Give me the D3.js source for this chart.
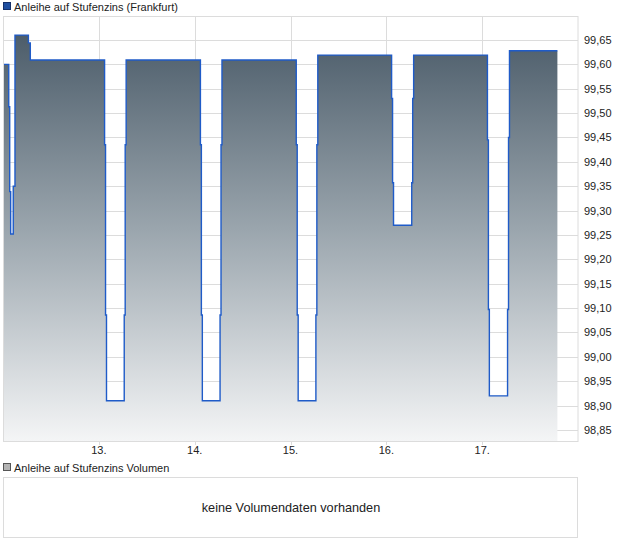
<!DOCTYPE html>
<html>
<head>
<meta charset="utf-8">
<script src="https://cdn.jsdelivr.net/npm/d3@7.9.0/dist/d3.min.js"></script>
<style>
  body { margin: 0; background: #fff; }
  text { font-family: "Liberation Sans", Arial, sans-serif; }
</style>
</head>
<body>
<svg id="chart" width="620" height="546"></svg>
<script>
// price data (fractional day of month, price)
const times = [12.01, 12.06, 12.07, 12.08, 12.107, 12.125, 12.265, 12.285,
  13.06, 13.07, 13.08, 13.265, 13.275, 13.285,
  14.06, 14.07, 14.08, 14.265, 14.275, 14.285,
  15.06, 15.07, 15.08, 15.265, 15.275, 15.285,
  16.055, 16.065, 16.075, 16.265, 16.275, 16.285,
  17.055, 17.065, 17.075, 17.265, 17.275, 17.285, 17.785];
const prices = [99.60, 99.513, 99.339, 99.252, 99.35, 99.66, 99.644, 99.609,
  99.435, 99.086, 98.91, 99.086, 99.435, 99.609,
  99.435, 99.086, 98.91, 99.086, 99.435, 99.609,
  99.435, 99.086, 98.91, 99.086, 99.435, 99.619,
  99.53, 99.357, 99.27, 99.357, 99.53, 99.619,
  99.445, 99.097, 98.92, 99.097, 99.45, 99.628, 99.628];
const dayTicks = [13, 14, 15, 16, 17];
const dayLabels = ['13.', '14.', '15.', '16.', '17.'];
const priceTicks = d3.range(0, 17).map(i => +(98.85 + i * 0.05).toFixed(2));

const data = times.map((t, i) => ({ t: t, v: prices[i] }));

const svg = d3.select('#chart');
const pLeft = 3, pRight = 578, pTop = 16, pBottom = 441;

let x = d3.scaleLinear().domain([12, 18]).range([pLeft, pRight]);
let y = d3.scaleLinear().domain([98.8274, 99.6992]).range([pBottom, pTop]);

// gradient for the area
const defs = svg.append('defs');
const grad = defs.append('linearGradient')
  .attr('id', 'fillGrad')
  .attr('gradientUnits', 'userSpaceOnUse')
  .attr('x1', 0).attr('y1', pTop).attr('x2', 0).attr('y2', pBottom);
grad.append('stop').attr('offset', '0%').attr('stop-color', '#455664');
grad.append('stop').attr('offset', '50%').attr('stop-color', '#9aa5ad');
grad.append('stop').attr('offset', '100%').attr('stop-color', '#f4f5f6');

// legend top
svg.append('rect').attr('x', 3.5).attr('y', 2.5).attr('width', 7).attr('height', 7)
  .attr('fill', '#1f4fa0').attr('stroke', '#15306a');
svg.append('text').attr('x', 14).attr('y', 10.5)
  .attr('font-size', 11).attr('fill', '#222')
  .text('Anleihe auf Stufenzins (Frankfurt)');

// grid
svg.append('g').selectAll('line').data(priceTicks).join('line')
  .attr('x1', pLeft).attr('x2', pRight)
  .attr('y1', d => Math.round(y(d)) + 0.5).attr('y2', d => Math.round(y(d)) + 0.5)
  .attr('stroke', '#dcdcdc');
svg.append('g').selectAll('line').data(dayTicks).join('line')
  .attr('x1', d => Math.round(x(d)) + 0.5).attr('x2', d => Math.round(x(d)) + 0.5)
  .attr('y1', pTop).attr('y2', pBottom)
  .attr('stroke', '#dcdcdc');

// area + line
const area = d3.area().curve(d3.curveStepAfter)
  .x(d => x(d.t)).y0(pBottom).y1(d => y(d.v));
const line = d3.line().curve(d3.curveStepAfter)
  .x(d => x(d.t)).y(d => y(d.v));

svg.append('path').attr('d', area(data)).attr('fill', 'url(#fillGrad)');
svg.append('path').attr('d', line(data))
  .attr('fill', 'none').attr('stroke', '#1f5bc8').attr('stroke-width', 1.4);

// frame
svg.append('rect').attr('x', pLeft + 0.5).attr('y', pTop + 0.5)
  .attr('width', pRight - pLeft - 0.5).attr('height', pBottom - pTop)
  .attr('fill', 'none').attr('stroke', '#dcdcdc');

// y axis labels (right)
svg.append('g').selectAll('text').data(priceTicks).join('text')
  .attr('x', 584).attr('y', d => y(d) + 4)
  .attr('font-size', 11).attr('fill', '#222')
  .text(d => d.toFixed(2).replace('.', ','));

// x ticks + labels
svg.append('g').selectAll('line').data(dayTicks).join('line')
  .attr('x1', d => Math.round(x(d)) + 0.5).attr('x2', d => Math.round(x(d)) + 0.5)
  .attr('y1', pBottom).attr('y2', pBottom + 4)
  .attr('stroke', '#dcdcdc');
svg.append('g').selectAll('text').data(dayTicks).join('text')
  .attr('x', d => x(d)).attr('y', pBottom + 13)
  .attr('text-anchor', 'middle')
  .attr('font-size', 11).attr('fill', '#222')
  .text((d, i) => dayLabels[i]);

// volume panel
svg.append('rect').attr('x', 3.5).attr('y', 463.5).attr('width', 7).attr('height', 7)
  .attr('fill', '#b4b4b4').attr('stroke', '#555');
svg.append('text').attr('x', 14).attr('y', 471.5)
  .attr('font-size', 11).attr('fill', '#222')
  .text('Anleihe auf Stufenzins Volumen');
svg.append('rect').attr('x', 3.5).attr('y', 477.5).attr('width', 574).attr('height', 60)
  .attr('fill', 'none').attr('stroke', '#dcdcdc');
svg.append('text').attr('x', 291).attr('y', 511.5)
  .attr('text-anchor', 'middle')
  .attr('font-size', 12.7).attr('fill', '#222')
  .text('keine Volumendaten vorhanden');
</script>
</body>
</html>
